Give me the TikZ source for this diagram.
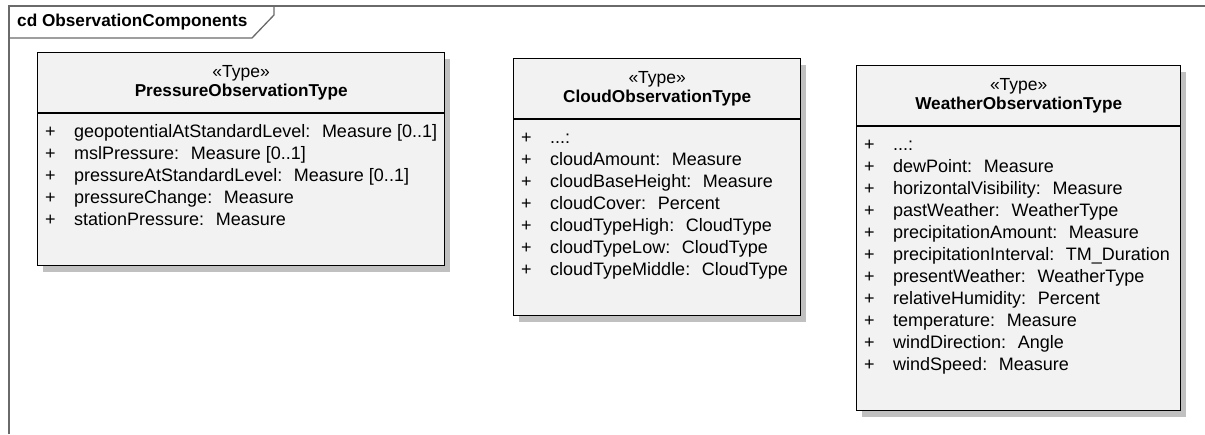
\documentclass[tikz,border=0pt]{standalone}
\usepackage{fontspec}
\setmainfont{Liberation Sans}
\usetikzlibrary{positioning,shadows}

\definecolor{boxfill}{HTML}{F2F2F2}
\definecolor{shadegray}{HTML}{C0C0C0}
\definecolor{framegray}{HTML}{6A6A6A}
\newcommand{\attplus}{\strut\makebox[29pt][l]{+}}

\begin{document}
\begin{tikzpicture}[x=1pt, y=1pt, every node/.style={inner sep=0pt},
  cls/.style={draw,line width=1.4pt,fill=boxfill,anchor=north west,
    drop shadow={shadow xshift=5pt,shadow yshift=-6pt,fill=shadegray,opacity=1}},
  stereo/.style={font=\fontsize{17.5}{20}\selectfont},
  cname/.style={font=\fontsize{17.2}{20}\selectfont\bfseries},
  attr/.style={anchor=north west,align=left,font=\fontsize{18}{22}\selectfont},
  sep/.style={line width=1.4pt}]
\useasboundingbox (0,0) rectangle (1205,-434);
% diagram frame
\draw[framegray,line width=1.5pt] (9,-434) -- (9,-6) -- (1205,-6);
\draw[framegray,line width=1.3pt] (9,-38) -- (252,-38) -- (274,-15) -- (274,-6);
\node[cname,anchor=west] (title) at (17,-22) {cd ObservationComponents};
% pressure
\node[cls,minimum width=407pt,minimum height=213pt] (pres) at (37,-52) {};
\node[stereo] (presst) at ([yshift=-21pt]pres.north) {«Type»};
\node[cname] (presnm) at ([yshift=-40pt]pres.north) {PressureObservationType};
\draw[sep] ([yshift=-61pt]pres.north west) -- ([yshift=-61pt]pres.north east);
\node[attr] (presat) at ([xshift=8pt,yshift=-69.6pt]pres.north west)
  {\attplus geopotentialAtStandardLevel:~ Measure [0..1]\\
   \attplus mslPressure:~ Measure [0..1]\\
   \attplus pressureAtStandardLevel:~ Measure [0..1]\\
   \attplus pressureChange:~ Measure\\
   \attplus stationPressure:~ Measure};
% cloud
\node[cls,minimum width=287pt,minimum height=257pt] (cloud) at (513,-58) {};
\node[stereo] (cloudst) at ([yshift=-21pt]cloud.north) {«Type»};
\node[cname] (cloudnm) at ([yshift=-40pt]cloud.north) {CloudObservationType};
\draw[sep] ([yshift=-61pt]cloud.north west) -- ([yshift=-61pt]cloud.north east);
\node[attr] (cloudat) at ([xshift=8pt,yshift=-69.6pt]cloud.north west)
  {\attplus ...:\\
   \attplus cloudAmount:~ Measure\\
   \attplus cloudBaseHeight:~ Measure\\
   \attplus cloudCover:~ Percent\\
   \attplus cloudTypeHigh:~ CloudType\\
   \attplus cloudTypeLow:~ CloudType\\
   \attplus cloudTypeMiddle:~ CloudType};
% weather
\node[cls,minimum width=324pt,minimum height=345pt] (wx) at (856,-65) {};
\node[stereo] (wxst) at ([yshift=-21pt]wx.north) {«Type»};
\node[cname] (wxnm) at ([yshift=-40pt]wx.north) {WeatherObservationType};
\draw[sep] ([yshift=-61pt]wx.north west) -- ([yshift=-61pt]wx.north east);
\node[attr] (wxat) at ([xshift=8pt,yshift=-69.6pt]wx.north west)
  {\attplus ...:\\
   \attplus dewPoint:~ Measure\\
   \attplus horizontalVisibility:~ Measure\\
   \attplus pastWeather:~ WeatherType\\
   \attplus precipitationAmount:~ Measure\\
   \attplus precipitationInterval:~ TM\_Duration\\
   \attplus presentWeather:~ WeatherType\\
   \attplus relativeHumidity:~ Percent\\
   \attplus temperature:~ Measure\\
   \attplus windDirection:~ Angle\\
   \attplus windSpeed:~ Measure};
\end{tikzpicture}
\end{document}
